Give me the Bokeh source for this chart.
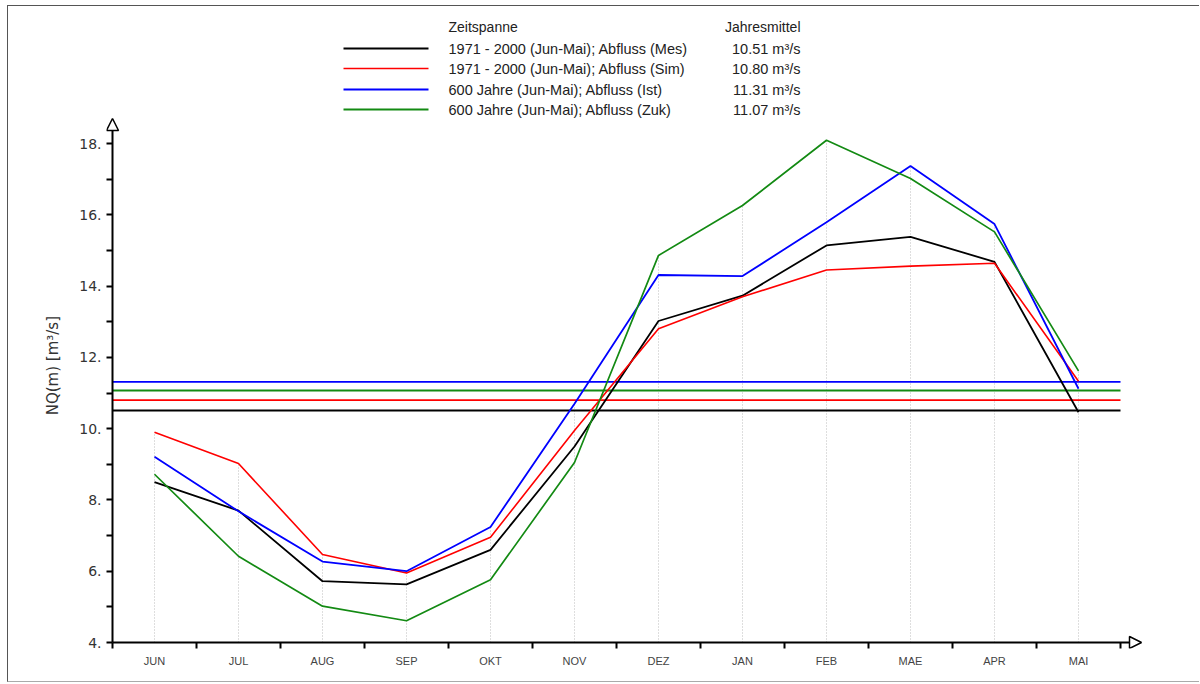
from bokeh.plotting import figure
from bokeh.models import FixedTicker, Range1d, Arrow, NormalHead, Label
from bokeh.embed import file_html
from bokeh.resources import INLINE

# ---------------- data ----------------
months = ["JUN", "JUL", "AUG", "SEP", "OKT", "NOV", "DEZ", "JAN", "FEB", "MAE", "APR", "MAI"]
mes = [8.50, 7.70, 5.72, 5.63, 6.60, 9.50, 13.02, 13.73, 15.14, 15.38, 14.68, 10.46]
sim = [9.90, 9.02, 6.47, 5.95, 6.95, 9.95, 12.80, 13.70, 14.45, 14.56, 14.64, 11.33]
ist = [9.21, 7.68, 6.27, 6.00, 7.24, 10.70, 14.31, 14.28, 15.79, 17.37, 15.74, 11.12]
zuk = [8.72, 6.42, 5.02, 4.61, 5.76, 9.05, 14.86, 16.26, 18.09, 17.02, 15.52, 11.62]
series_names = ["1971 - 2000 (Jun-Mai); Abfluss (Mes)",
                "1971 - 2000 (Jun-Mai); Abfluss (Sim)",
                "600 Jahre (Jun-Mai); Abfluss (Ist)",
                "600 Jahre (Jun-Mai); Abfluss (Zuk)"]
annual_means = [10.51, 10.80, 11.31, 11.07]
y_ticks = [4, 6, 8, 10, 12, 14, 16, 18]
y_minor = [5, 7, 9, 11, 13, 15, 17]

# ---------------- styling / layout ----------------
colors = ["#000000", "#ff0000", "#0000ff", "#138a13"]
widths = [1.8, 1.6, 1.8, 1.7]
FONT = "Liberation Sans"

OX, OY = 8, 6          # page position of the figure content
W, H = 1192, 677
PX_X = 84.0            # pixels per month
PX_Y = 499.0 / 14.0    # pixels per y unit

# page pixel -> data (for placing annotations only)
def dx(px):
    return -0.5 + (px - 112) / PX_X
def dy(py):
    return 4.0 + (642 - py) / PX_Y

FL, FR, FT, FB = 106, OX + W, OY, 648   # frame edges on the page

p = figure(width=W, height=H, output_backend="svg", toolbar_location=None,
           x_range=Range1d(dx(FL), dx(FR)), y_range=Range1d(dy(FB), dy(FT)),
           min_border_left=FL - OX, min_border_right=0, min_border_top=0,
           min_border_bottom=(OY + H) - FB)
p.styles = {"margin-left": "7px", "margin-top": "5px",
            "border-left": "1px solid #555", "border-top": "1px solid #555",
            "border-bottom": "1px solid #aaa"}
p.outline_line_color = None
p.grid.visible = False
p.background_fill_color = "white"
p.border_fill_color = "white"

xs = list(range(len(months)))
y_base = y_ticks[0]

# drop lines up to the highest value of each month
tops = [max(v) for v in zip(mes, sim, ist, zuk)]
p.segment(x0=xs, y0=[y_base] * len(xs), x1=xs, y1=tops, line_color="#bdbdbd",
          line_width=1, line_dash="1 2")

# annual mean lines
for m, c, w in zip(annual_means, colors, [2.0, 1.6, 1.8, 1.8]):
    p.line(x=[xs[0] - 0.5, xs[-1] + 0.5], y=[m, m], line_color=c, line_width=w)

# series
for vals, c, w in zip([mes, sim, ist, zuk], colors, widths):
    p.line(x=xs, y=vals, line_color=c, line_width=w)

# ---------------- axes ----------------
xa = p.xaxis[0]
xa.ticker = FixedTicker(ticks=xs, minor_ticks=[i - 0.5 for i in xs] + [xs[-1] + 0.5])
xa.major_label_overrides = {i: m for i, m in enumerate(months)}
xa.axis_line_color = None
xa.major_tick_out = 0
xa.major_tick_in = 0
xa.minor_tick_out = 0
xa.minor_tick_in = 6
xa.minor_tick_line_color = "black"
xa.minor_tick_line_width = 2
xa.major_label_standoff = 6
xa.major_label_text_font = FONT
xa.major_label_text_font_size = "11px"
xa.major_label_text_color = "#444444"

ya = p.yaxis[0]
ya.ticker = FixedTicker(ticks=y_ticks, minor_ticks=y_minor)
ya.major_label_overrides = {t: f"{t}." for t in y_ticks}
ya.axis_line_color = None
ya.major_tick_out = 0
ya.major_tick_in = 6
ya.minor_tick_out = 0
ya.minor_tick_in = 6
ya.major_tick_line_width = 2
ya.minor_tick_line_width = 2
ya.minor_tick_line_color = "black"
ya.major_label_standoff = 5
ya.major_label_text_font = "DejaVu Sans"
ya.major_label_text_font_size = "14px"
ya.major_label_text_color = "#333333"
# trailing no-break spaces move the (frame-centred) title down to the reference position
ya.axis_label = "NQ(m) [m³/s]" + "\u00a0" * 16
ya.axis_label_text_font = "DejaVu Sans"
ya.axis_label_text_font_size = "15px"
ya.axis_label_text_font_style = "normal"
ya.axis_label_text_color = "#333333"
ya.axis_label_standoff = 14

# axis lines with open arrow heads
p.add_layout(Arrow(x_start=-0.5, y_start=y_base, x_end=-0.5, y_end=dy(118),
                   line_width=2, line_color="black",
                   end=NormalHead(size=12, fill_color="white", line_color="black", line_width=1.5)))
p.add_layout(Arrow(x_start=-0.5, y_start=y_base, x_end=dx(1141), y_end=y_base,
                   line_width=2, line_color="black",
                   end=NormalHead(size=12, fill_color="white", line_color="black", line_width=1.5)))

# ---------------- legend ----------------
row_y = [48, 68, 89, 109]
p.add_layout(Label(x=dx(448), y=dy(26), text="Zeitspanne", text_align="left",
                   text_baseline="middle", text_font=FONT, text_font_size="14px",
                   text_color="#222222"))
p.add_layout(Label(x=dx(800), y=dy(26), text="Jahresmittel", text_align="right",
                   text_baseline="middle", text_font=FONT, text_font_size="14px",
                   text_color="#222222"))
for name, m, c, w, ry in zip(series_names, annual_means, colors, [2.2, 1.6, 2.2, 2.2], row_y):
    p.add_layout(Arrow(x_start=dx(343), y_start=dy(ry), x_end=dx(428), y_end=dy(ry),
                       end=None, line_color=c, line_width=w))
    p.add_layout(Label(x=dx(448), y=dy(ry), text=name, text_align="left",
                       text_baseline="middle", text_font=FONT, text_font_size="14.5px",
                       text_color="#222222"))
    p.add_layout(Label(x=dx(800), y=dy(ry), text=f"{m:.2f} m³/s", text_align="right",
                       text_baseline="middle", text_font=FONT, text_font_size="14.5px",
                       text_color="#222222"))

open("out.html", "w").write(file_html(p, INLINE))
